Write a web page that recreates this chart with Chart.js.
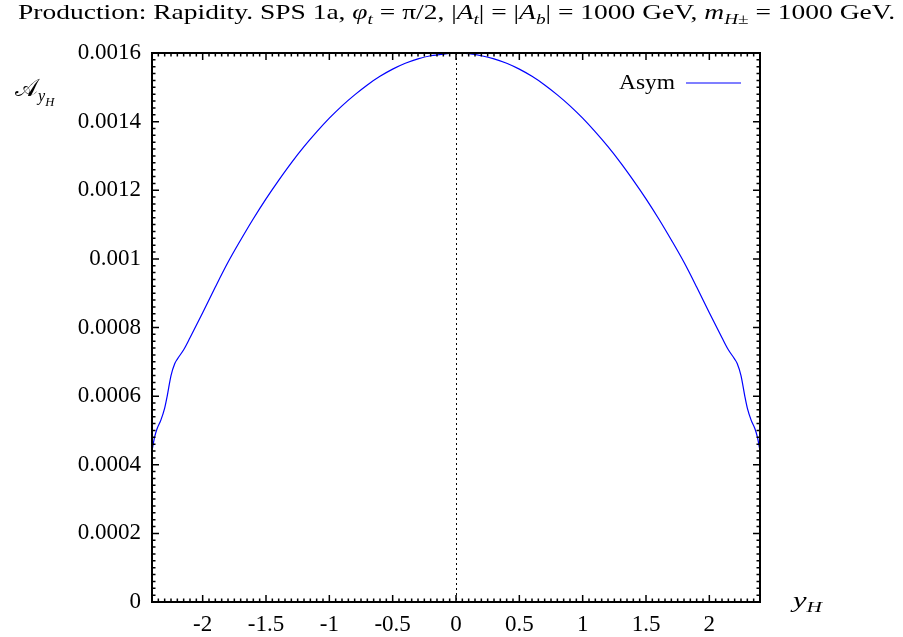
<!DOCTYPE html>
<html>
<head>
<meta charset="utf-8">
<script src="https://cdn.jsdelivr.net/npm/chart.js@4.4.1/dist/chart.umd.min.js"></script>
<style>
html,body{margin:0;padding:0;background:#fff;}
#wrap{width:903px;height:637px;}
</style>
</head>
<body>
<div id="wrap"><canvas id="c" width="903" height="637"></canvas></div>
<script>
// ---- data ----
const rapidity = [-2.4,-2.38,-2.36,-2.33,-2.3,-2.28,-2.25,-2.22,-2.2,-2.15,-2.1,-2.0,-1.9,-1.8,-1.7,-1.6,-1.5,-1.4,-1.3,-1.2,-1.1,-1.0,-0.9,-0.8,-0.7,-0.6,-0.5,-0.4,-0.3,-0.2,-0.1,0,0.1,0.2,0.3,0.4,0.5,0.6,0.7,0.8,0.9,1.0,1.1,1.2,1.3,1.4,1.5,1.6,1.7,1.8,1.9,2.0,2.1,2.15,2.2,2.22,2.25,2.28,2.3,2.33,2.36,2.38,2.4];
const asym = [0.00044,0.00048,0.000505,0.00053,0.000565,0.0006,0.00066,0.000695,0.000708,0.000735,0.00077,0.000843,0.000918,0.00099,0.001055,0.001117,0.001175,0.001229,0.00128,0.001327,0.00137,0.00141,0.001446,0.001478,0.001507,0.001532,0.001553,0.00157,0.001583,0.001592,0.001597,0.0016,0.001598,0.001592,0.001583,0.00157,0.001553,0.001532,0.001507,0.001478,0.001446,0.00141,0.00137,0.001327,0.00128,0.001229,0.001175,0.001117,0.001055,0.00099,0.000918,0.000843,0.00077,0.000735,0.000708,0.000695,0.00066,0.0006,0.000565,0.00053,0.000505,0.00048,0.00044];
const xTicks = [-2,-1.5,-1,-0.5,0,0.5,1,1.5,2];
const xTickLabels = ['-2','-1.5','-1','-0.5','0','0.5','1','1.5','2'];
const yTicks = [0,0.0002,0.0004,0.0006,0.0008,0.001,0.0012,0.0014,0.0016];
const yTickLabels = ['0','0.0002','0.0004','0.0006','0.0008','0.001','0.0012','0.0014','0.0016'];
const seriesName = 'Asym';
// title pieces: [text, italic, subscript level]
const titleParts = [
  ['Production: Rapidity. SPS 1a, ',0,0],['φ',1,0],['t',1,1],[' = π/2, |',0,0],['A',1,0],['t',1,1],
  ['| = |',0,0],['A',1,0],['b',1,1],['| = 1000 GeV, ',0,0],['m',1,0],['H',1,1],['±',0,1],[' = 1000 GeV.',0,0]
];

const FONT = '"Liberation Serif", "Times New Roman", serif';

function drawRich(ctx, parts, x, y, size, align, targetWidth) {
  const sz = p => p[2] === 2 ? size*0.55 : (p[2] ? size*0.7 : size);
  const off = p => p[2] === 2 ? size*0.42 : (p[2] ? size*0.22 : 0);
  const widths = parts.map(p => {
    ctx.font = (p[1]?'italic ':'') + sz(p) + 'px ' + FONT;
    return ctx.measureText(p[0]).width;
  });
  const total = widths.reduce((a,b)=>a+b,0);
  const sx = targetWidth ? targetWidth/total : 1;
  const w = total*sx;
  let start = align==='center' ? x - w/2 : (align==='right' ? x - w : x);
  ctx.save();
  ctx.translate(start, y);
  ctx.scale(sx, 1);
  let cx = 0;
  parts.forEach((p,i) => {
    ctx.font = (p[1]?'italic ':'') + sz(p) + 'px ' + FONT;
    ctx.fillText(p[0], cx, off(p));
    cx += widths[i];
  });
  ctx.restore();
}

const framePlugin = {
  id: 'frame',
  beforeDatasetsDraw(chart) {
    const {ctx, chartArea:a, scales:{x}} = chart;
    ctx.save();
    ctx.strokeStyle = '#000';
    ctx.lineWidth = 1;
    ctx.setLineDash([2,3]);
    const x0 = Math.round(x.getPixelForValue(0)) + 0.5;
    ctx.beginPath(); ctx.moveTo(x0, a.top); ctx.lineTo(x0, a.bottom); ctx.stroke();
    ctx.setLineDash([]);
    ctx.restore();
  },
  afterDatasetsDraw(chart) {
    const {ctx, chartArea:a, scales:{x, y}} = chart;
    ctx.save();
    ctx.strokeStyle = '#000';
    ctx.lineWidth = 1.5;
    ctx.beginPath();
    for (let i = -48; i <= 48; i++) {
      const px = x.getPixelForValue(i*0.05);
      const len = (i % 10 === 0) ? 7 : 3.5;
      ctx.moveTo(px, a.bottom); ctx.lineTo(px, a.bottom - len);
      ctx.moveTo(px, a.top); ctx.lineTo(px, a.top + len);
    }
    for (let i = 0; i <= 80; i++) {
      const py = y.getPixelForValue(i*0.00002);
      const len = (i % 10 === 0) ? 7 : 3.5;
      ctx.moveTo(a.left, py); ctx.lineTo(a.left + len, py);
      ctx.moveTo(a.right, py); ctx.lineTo(a.right - len, py);
    }
    ctx.stroke();
    ctx.lineWidth = 2;
    ctx.strokeRect(a.left, a.top, a.right - a.left, a.bottom - a.top);

    // legend
    ctx.fillStyle = '#000';
    ctx.textBaseline = 'alphabetic';
    ctx.textAlign = 'left';
    drawRich(ctx, [[seriesName,0,0]], 675, 89, 22, 'right', 56);
    ctx.strokeStyle = '#0000ff';
    ctx.lineWidth = 1.2;
    ctx.beginPath(); ctx.moveTo(686, 83); ctx.lineTo(741, 83); ctx.stroke();

    // title
    drawRich(ctx, titleParts, 456.5, 19, 22, 'center', 877);
    // axis titles
    drawRich(ctx, [['𝒜',0,0]], 15, 96, 24, 'left');
    drawRich(ctx, [['y',1,1],['H',1,2]], 38, 96, 23, 'left');
    drawRich(ctx, [['y',1,0],['H',1,1]], 793, 607, 22, 'left', 29);
    ctx.restore();
  }
};

const chart = new Chart(document.getElementById('c'), {
  type: 'line',
  data: {
    datasets: [{
      label: seriesName,
      data: rapidity.map((v,i)=>({x:v, y:asym[i]})),
      borderColor: '#0000ff',
      borderWidth: 1.2,
      pointRadius: 0,
      fill: false,
      cubicInterpolationMode: 'monotone'
    }]
  },
  options: {
    responsive: false,
    animation: false,
    layout: { padding: { top: 53, right: 143, left: 0, bottom: 0 } },
    plugins: { legend: { display: false }, title: { display: false }, tooltip: { enabled: false } },
    scales: {
      x: {
        type: 'linear', min: -2.4, max: 2.4,
        grid: { display: false, drawTicks: false },
        border: { display: false },
        afterBuildTicks: s => { s.ticks = xTicks.map(v=>({value:v})); },
        afterFit: s => { s.height = 35; },
        ticks: {
          padding: 9, color: '#000', font: { family: FONT, size: 23 }, maxRotation: 0, autoSkip: false,
          callback: (v) => { const i = xTicks.findIndex(t=>Math.abs(t-v)<1e-9); return i>=0 ? xTickLabels[i] : ''; }
        }
      },
      y: {
        type: 'linear', min: 0, max: 0.0016,
        grid: { display: false, drawTicks: false },
        border: { display: false },
        afterBuildTicks: s => { s.ticks = yTicks.map(v=>({value:v})); },
        afterFit: s => { s.width = 152; },
        ticks: {
          padding: 11, color: '#000', font: { family: FONT, size: 23 }, autoSkip: false,
          callback: (v) => { const i = yTicks.findIndex(t=>Math.abs(t-v)<1e-12); return i>=0 ? yTickLabels[i] : ''; }
        }
      }
    }
  },
  plugins: [framePlugin]
});
</script>
</body>
</html>
